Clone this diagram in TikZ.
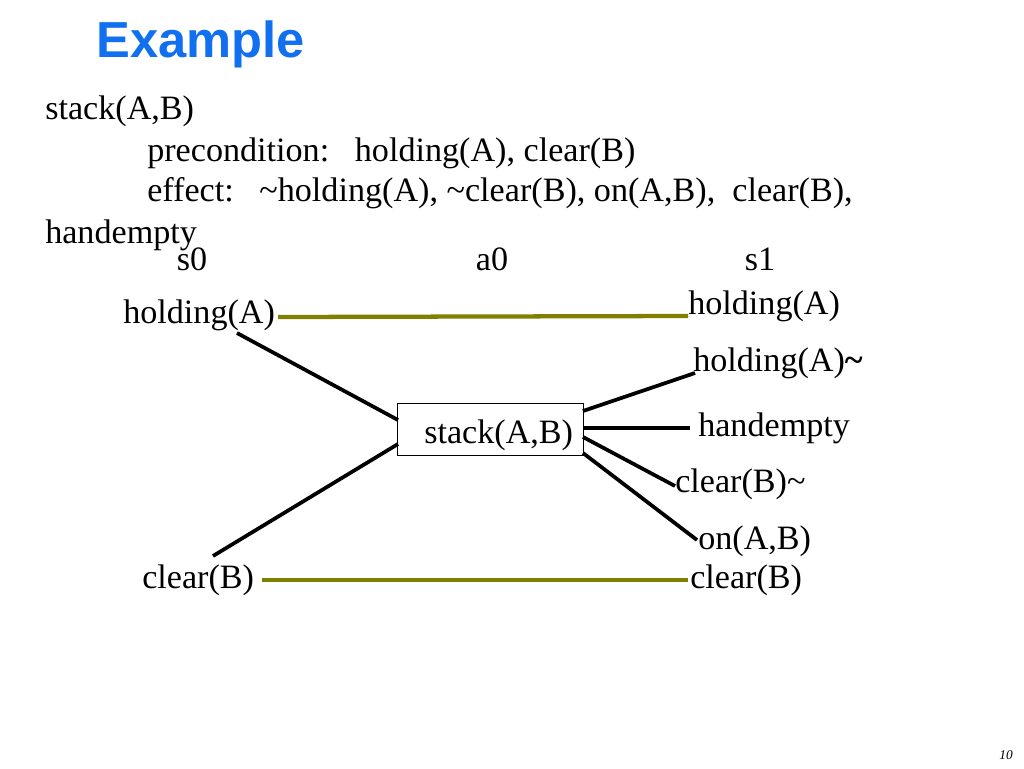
\documentclass[tikz,border=0pt]{standalone}
\usepackage{fontspec}
\setmainfont{Liberation Serif}
\newfontfamily\sansb{Liberation Sans}
\begin{document}
\begin{tikzpicture}[x=0.75pt,y=-0.75pt,
  txt/.style={anchor=west,inner sep=0pt,font=\fontsize{25.6}{29}\selectfont},
  blk/.style={line width=2.8pt,black},
  olv/.style={line width=3.2pt,color={rgb,255:red,128;green,128;blue,0}}]
\useasboundingbox (0,0) rectangle (1024,768);
\node[anchor=west,inner sep=0pt,font=\sansb\bfseries\fontsize{38}{44}\selectfont,color={rgb,255:red,16;green,112;blue,240}] (title) at (96,44) {Example};
\node[txt] (op) at (45,111) {stack(A,B)};
\node[txt] (pre) at (147,153) {precondition:\ \ \ holding(A), clear(B)};
\node[txt] (eff) at (147,193) {effect:\ \ \ \textasciitilde holding(A), \textasciitilde clear(B), on(A,B),\ \ clear(B),};
\node[txt] (he) at (45,235) {handempty};
\node[txt,anchor=center] (s0) at (192,259) {s0};
\node[txt,anchor=center] (a0) at (492,259) {a0};
\node[txt,anchor=center] (s1) at (760,259) {s1};
\node[txt] (hA) at (123,315) {holding(A)};
\node[txt] (hA1) at (688,306) {holding(A)};
\node[txt] (nhA) at (693,363) {holding(A)\textbf{\textasciitilde}};
\node[txt] (hemp) at (698,428) {handempty};
\node[txt] (ncB) at (675,484) {clear(B)\textasciitilde};
\node[txt] (onAB) at (698,541) {on(A,B)};
\node[txt] (cB) at (142,580) {clear(B)};
\node[txt] (cB1) at (690,580) {clear(B)};
\node[draw,line width=0.6pt,minimum width=139pt,minimum height=39pt,inner sep=0pt] (act) at (490.5,429) {};
\node[txt] (actl) at (424,435) {stack(A,B)};
\node[anchor=center,inner sep=0pt,font=\itshape\fontsize{10}{12}\selectfont] (pg) at (1006,755) {10};
\draw[olv] (278,317) coordinate (o1) -- (688,316) coordinate (o2);
\draw[olv] (262,580) coordinate (o3) -- (688,580) coordinate (o4);
\coordinate (p1) at (237,333); \coordinate (p2) at (213,556);
\draw[blk] (p1) -- (398,420);
\draw[blk] (p2) -- (398,444);
\draw[blk] (583,411) -- (695,373);
\draw[blk] (583,428) -- (690,428);
\draw[blk] (583,437) -- (675,486);
\draw[blk] (583,453) -- (697,540);
\end{tikzpicture}
\end{document}
